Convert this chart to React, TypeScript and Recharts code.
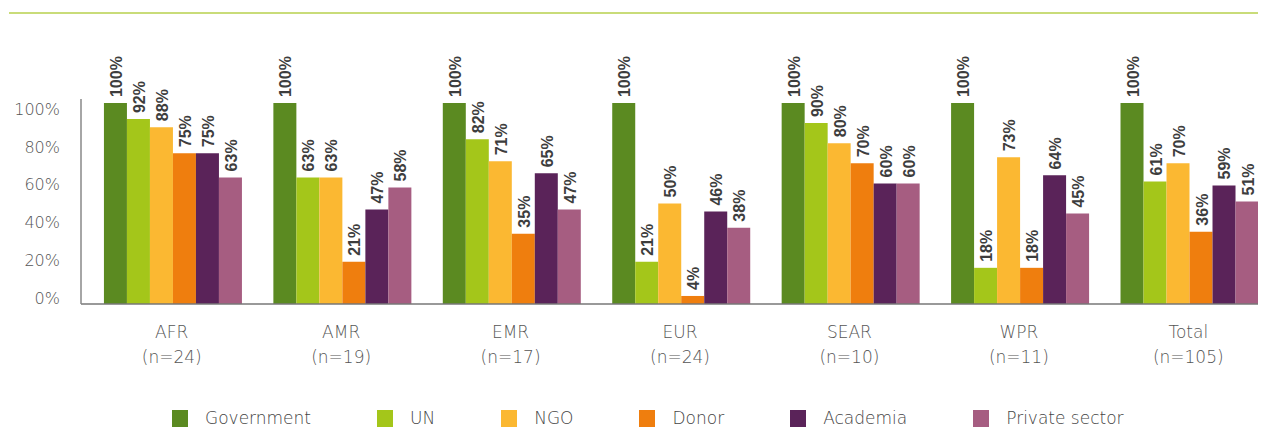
import { Bar, BarChart, LabelList, XAxis, YAxis } from "recharts";

const regions = ["AFR", "AMR", "EMR", "EUR", "SEAR", "WPR", "Total"];
const counts = [24, 19, 17, 24, 10, 11, 105];

const government = [100, 100, 100, 100, 100, 100, 100];
const un = [92, 63, 82, 21, 90, 18, 61];
const ngo = [88, 63, 71, 50, 80, 73, 70];
const donor = [75, 21, 35, 4, 70, 18, 36];
const academia = [75, 47, 65, 46, 60, 64, 59];
const privateSector = [63, 58, 47, 38, 60, 45, 51];

const yTicks = [0, 20, 40, 60, 80, 100];

const seriesList = [
  { key: "government", name: "Government", color: "#5b8a21", values: government },
  { key: "un", name: "UN", color: "#a4c61a", values: un },
  { key: "ngo", name: "NGO", color: "#fbb832", values: ngo },
  { key: "donor", name: "Donor", color: "#ef7e0e", values: donor },
  { key: "academia", name: "Academia", color: "#5a2359", values: academia },
  { key: "privateSector", name: "Private sector", color: "#a65d81", values: privateSector },
];

const data = regions.map((region, i) => {
  const row: Record<string, string | number> = { region, n: counts[i] };
  seriesList.forEach((s) => {
    row[s.key] = s.values[i];
  });
  return row;
});

const tickFont = "'DejaVu Sans', sans-serif";

const ValueLabel = (props: any) => {
  const { x, y, width, value } = props;
  const cx = Number(x) + Number(width) / 2 + 1;
  const ty = Number(y) - 6;
  return (
    <text
      x={cx}
      y={ty}
      transform={`rotate(-90, ${cx}, ${ty})`}
      textAnchor="start"
      dominantBaseline="central"
      fontFamily="'Liberation Sans', Arial, sans-serif"
      fontWeight={700}
      fontSize={16}
      fill="#3d3d3d"
    >
      {`${value}%`}
    </text>
  );
};

const RegionTick = (props: any) => {
  const { x, y, payload, index } = props;
  return (
    <text
      x={x}
      y={y}
      textAnchor="middle"
      fontFamily={tickFont}
      fontWeight={300}
      fontSize={17}
      fill="#555"
    >
      <tspan x={x} dy={34}>
        {payload.value}
      </tspan>
      <tspan x={x} dy={25}>{`(n=${counts[index]})`}</tspan>
    </text>
  );
};

const PercentTick = (props: any) => {
  const { x, y, payload } = props;
  // labels sit slightly inside the gridline positions, as in the original
  const shift = (200 - Number(y)) * 0.06;
  return (
    <text
      x={x}
      y={Number(y) + shift}
      textAnchor="end"
      dominantBaseline="central"
      fontFamily={tickFont}
      fontWeight={300}
      fontSize={16}
      fill="#555"
    >
      {`${payload.value}%`}
    </text>
  );
};

const LegendBox = () => (
  <div
    style={{
      position: "absolute",
      top: 402,
      left: 164,
      display: "flex",
      gap: 66,
      alignItems: "center",
    }}
  >
    {seriesList.map((s) => (
      <div key={s.key} style={{ display: "flex", alignItems: "center", gap: 17 }}>
        <span style={{ width: 16, height: 17, background: s.color, display: "inline-block" }} />
        <span
          style={{
            fontFamily: tickFont,
            fontWeight: 300,
            fontSize: 17,
            lineHeight: "17px",
            color: "#444",
          }}
        >
          {s.name}
        </span>
      </div>
    ))}
  </div>
);

export default function App() {
  return (
    <div style={{ position: "relative", width: 1258, height: 420, overflow: "hidden" }}>
      <div
        style={{
          position: "absolute",
          top: 4,
          left: 1,
          right: 0,
          height: 2,
          background: "#c9dc79",
        }}
      />
      <BarChart
        width={1265}
        height={420}
        data={data}
        margin={{ top: 91, right: 0, bottom: 44, left: 0 }}
        barCategoryGap="10%"
        barGap={0}
      >
        <XAxis
          dataKey="region"
          interval={0}
          tickLine={false}
          tickSize={0}
          tickMargin={0}
          padding={{ left: 6, right: 0 }}
          axisLine={{ stroke: "#777", strokeWidth: 1.5 }}
          tick={<RegionTick />}
          height={80}
        />
        <YAxis
          domain={[0, 102]}
          ticks={yTicks}
          interval={0}
          width={73}
          tickLine={false}
          tickSize={0}
          tickMargin={21}
          axisLine={{ stroke: "#888", strokeWidth: 1.5 }}
          tick={<PercentTick />}
        />
        {seriesList.map((s) => (
          <Bar
            key={s.key}
            dataKey={s.key}
            name={s.name}
            fill={s.color}
            isAnimationActive={false}
          >
            <LabelList dataKey={s.key} content={<ValueLabel />} />
          </Bar>
        ))}
      </BarChart>
      <LegendBox />
    </div>
  );
}
